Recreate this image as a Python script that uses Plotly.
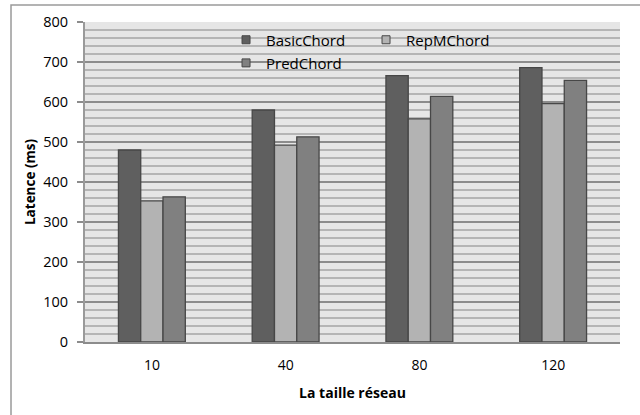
import plotly.graph_objects as go

categories = ["10", "40", "80", "120"]
series_names = ["BasicChord", "RepMChord", "PredChord"]
basic = [480, 580, 666, 686]
repm = [353, 492, 558, 596]
pred = [363, 513, 614, 654]
colors = ["#5f5f5f", "#b3b3b3", "#808080"]
y_ticks = [0, 100, 200, 300, 400, 500, 600, 700, 800]

font = "'Open Sans', sans-serif"
fig = go.Figure()
for name, vals, col in zip(series_names, [basic, repm, pred], colors):
    fig.add_trace(go.Bar(x=categories, y=vals, name=name, marker=dict(color=col, line=dict(color="#474747", width=1.3)),
                         showlegend=False))
# legend entries (two legends to reproduce the 2 + 1 layout)
legend_ids = ["legend", "legend", "legend2"]
for name, col, lg in zip(series_names, colors, legend_ids):
    fig.add_trace(go.Scatter(x=[None], y=[None], mode="markers", name=name, legend=lg,
                             marker=dict(symbol="square", size=8, color=col, line=dict(color="#474747", width=1))))

leg_common = dict(orientation="h", xanchor="left", yanchor="top", bgcolor="rgba(0,0,0,0)",
                  entrywidth=95, font=dict(size=15), itemwidth=30)
fig.update_layout(
    width=640, height=415,
    margin=dict(l=85, r=20, t=22, b=73, autoexpand=False),
    paper_bgcolor="white", plot_bgcolor="#e6e6e6",
    barmode="group", bargap=0.5, bargroupgap=0,
    font=dict(family=font, size=14, color="#000"),
    legend=dict(x=0.2636, y=0.9953, **leg_common),
    legend2=dict(x=0.2636, y=0.923, **leg_common),
    xaxis=dict(title=dict(text="<b>La taille réseau</b>", font=dict(size=14), standoff=15),
               showline=True, linecolor="#8c8c8c", linewidth=2, ticks="", showgrid=False,
               tickfont=dict(size=14), automargin=False, ticklabelstandoff=9),
    yaxis=dict(title=dict(text="<b>Latence (ms)</b>", font=dict(size=13.5), standoff=4),
               range=[0, 800], tickvals=y_ticks, showline=True, linecolor="#9a9a9a", linewidth=2,
               ticks="outside", ticklen=6, tickcolor="#8c8c8c", tickwidth=2,
               showgrid=True, gridcolor="#8c8c8c", gridwidth=2, zeroline=False,
               minor=dict(dtick=20, showgrid=True, gridcolor="#b5b5b5", gridwidth=1.5),
               tickfont=dict(size=14.5), layer="below traces", automargin=False, ticklabelstandoff=6),
)
fig.add_shape(type="rect", xref="paper", yref="paper", x0=-0.1383, x1=1.2, y0=-0.4, y1=1.053,
              line=dict(color="#9a9a9a", width=1.5), fillcolor="rgba(0,0,0,0)")
fig.write_html("out.html", config={"displayModeBar": False},
               post_script="document.body.style.margin='0';")
